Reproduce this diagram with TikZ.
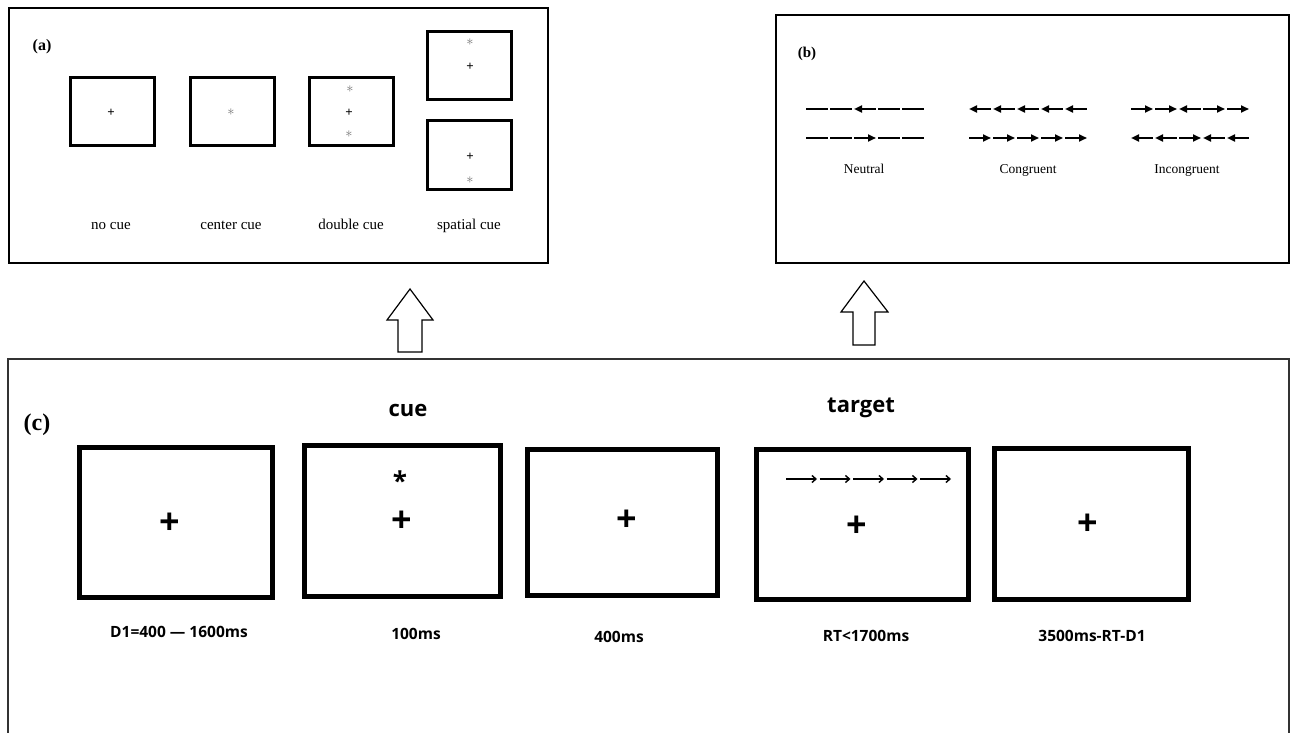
\documentclass[tikz,border=0pt]{standalone}
\usepackage{fontspec}
\setmainfont{Liberation Serif}
\newfontfamily\osans{Open Sans}
\usetikzlibrary{arrows.meta,positioning}

\begin{document}
\begin{tikzpicture}[x=1pt,y=-1pt,>=Latex,
 panel/.style={draw,line width=1.3pt},
 cuebox/.style={draw,line width=3pt,minimum width=84pt,minimum height=68pt,inner sep=0pt},
 scr/.style={draw,line width=5pt,minimum width=194pt,minimum height=150pt,inner sep=0pt},
 txta/.style={font=\fontsize{15}{18}\selectfont,text height=1.5ex,text depth=.25ex},
 txtb/.style={font=\fontsize{13.5}{16}\selectfont,text height=1.5ex,text depth=.25ex},
 lab/.style={font=\osans\bfseries\fontsize{15.5}{18}\selectfont},
 head/.style={font=\osans\bfseries\fontsize{22}{26}\selectfont},
 fix/.style={font=\osans\bfseries\fontsize{36}{40}\selectfont,inner sep=0pt},
 star/.style={text=black!55,inner sep=0pt,font=\fontsize{14}{14}\selectfont},
 plus/.style={inner sep=0pt,font=\bfseries\fontsize{13}{13}\selectfont},
 seg/.style={line width=2pt},
 segn/.style={seg},
 segl/.style={seg,{Triangle[length=8pt,width=7pt]}-},
 segr/.style={seg,-{Triangle[length=8pt,width=7pt]}},
 tarr/.style={line width=1.4pt,-{Straight Barb[length=4pt,width=7pt]}},
 bigarr/.style={draw,line width=1.2pt,fill=white,line join=miter}]
\useasboundingbox (0,0) rectangle (1293,733);

% (a) cue conditions
\draw[panel] (9,8) rectangle (548,263);
\node[font=\bfseries\fontsize{16}{18}\selectfont] (pa) at (42,47) {(a)};
\node[cuebox] (nocue) at (112.5,111.5) {};
\node[cuebox] (centercue) at (232,111.5) {};
\node[cuebox] (doublecue) at (351.5,111.5) {};
\node[cuebox] (spatup) at (469.5,65.5) {};
\node[cuebox] (spatdn) at (469.5,155) {};
\node[plus] (p1) at (111,113) {+};
\node[star] (s1) at (231,112) {$\ast$};
\node[star] (s2) at (350,89) {$\ast$};
\node[plus] (p2) at (349,113) {+};
\node[star] (s3) at (349,134) {$\ast$};
\node[star] (s4) at (470,42) {$\ast$};
\node[plus] (p3) at (470,67) {+};
\node[plus] (p4) at (470,157) {+};
\node[star] (s5) at (470,180) {$\ast$};
\node[txta] (lnocue) at (111,227) {no cue};
\node[txta] (lcenter) at (231,227) {center cue};
\node[txta] (ldouble) at (351,227) {double cue};
\node[txta] (lspatial) at (469,227) {spatial cue};

% (b) flanker conditions
\draw[panel] (776,15) rectangle (1289,263);
\node[font=\bfseries\fontsize{15}{18}\selectfont] (pb) at (807,54) {(b)};
\foreach \x/\y/\pat in {806/109/{n,n,l,n,n}, 806/138/{n,n,r,n,n},
  969/109/{l,l,l,l,l}, 969/138/{r,r,r,r,r},
  1131/109/{r,r,l,r,r}, 1131/138/{l,l,r,l,l}}
  \foreach \t [count=\i from 0] in \pat
    \draw[seg\t] (\x+\i*24,\y) -- ++(22,0);
\node[txtb] (lneutral) at (864,170.5) {Neutral};
\node[txtb] (lcongr) at (1028,170.5) {Congruent};
\node[txtb] (lincongr) at (1187,170.5) {Incongruent};

% block arrows
\draw[bigarr] (398,352) -- (398,320) -- (387,320) -- (410,289) -- (433,320)
  -- (422,320) -- (422,352) -- cycle;
\draw[bigarr] (853,345) -- (853,312) -- (841,312) -- (864,281) -- (888,312)
  -- (875,312) -- (875,345) -- cycle;

% (c) trial sequence
\draw[panel,draw=black!80] (8,359) rectangle (1289,780);
\node[font=\bfseries\fontsize{24}{28}\selectfont] (pc) at (37,425) {(c)};
\node[scr,minimum width=193pt,minimum height=150pt] (f1) at (176,522.5) {};
\node[scr,minimum width=196pt,minimum height=151pt] (f2) at (402.5,521) {};
\node[scr,minimum width=190pt,minimum height=146pt] (f3) at (622.5,522.5) {};
\node[scr,minimum width=212pt,minimum height=150pt] (f4) at (862.5,524.5) {};
\node[scr,minimum width=194pt,minimum height=151pt] (f5) at (1091.5,524) {};
\node[fix] (x1) at (170,524) {+};
\node[fix] (x2) at (402,522) {+};
\node[fix] (x3) at (627,521) {+};
\node[fix] (x4) at (857,527) {+};
\node[fix] (x5) at (1088,525) {+};
\node[font=\osans\bfseries\fontsize{26}{28}\selectfont,inner sep=0pt] (ast) at (400,481) {*};
\foreach \i in {0,...,4}
  \draw[tarr] (786+\i*33.5,479) -- ++(31,0);
\node[head] (cue) at (408,410) {cue};
\node[head] (target) at (861,408) {target};
\node[lab] (l1) at (179,632) {D1=400 — 1600ms};
\node[lab] (l2) at (416,634) {100ms};
\node[lab] (l3) at (619,637) {400ms};
\node[lab] (l4) at (866,636) {RT<1700ms};
\node[lab] (l5) at (1092,636) {3500ms-RT-D1};
\end{tikzpicture}
\end{document}
